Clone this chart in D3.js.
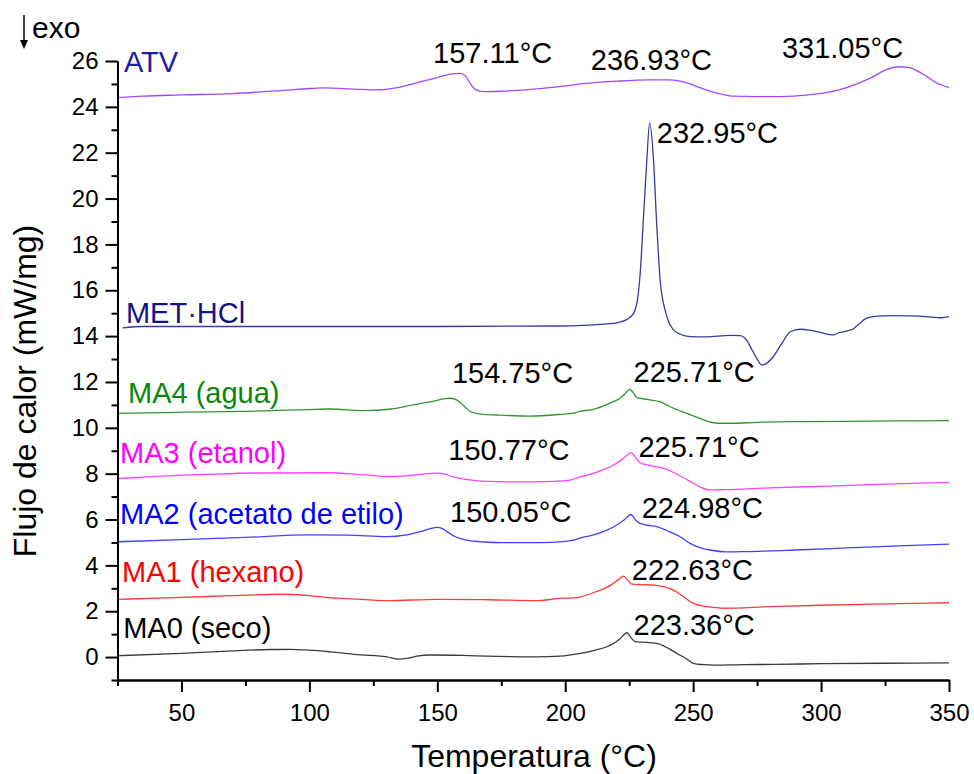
<!DOCTYPE html>
<html>
<head>
<meta charset="utf-8">
<script src="https://cdn.jsdelivr.net/npm/d3@7/dist/d3.min.js"></script>
<style>
  html, body { margin: 0; padding: 0; background: #fff; }
  svg { display: block; font-family: "Liberation Sans", Arial, sans-serif; }
</style>
</head>
<body>
<svg id="chart" width="974" height="774"></svg>
<script>
// ---------- DATA (temperature °C, heat flow mW/mg) ----------
const seriesNames = ["ATV", "MET·HCl", "MA4 (agua)", "MA3 (etanol)", "MA2 (acetato de etilo)", "MA1 (hexano)", "MA0 (seco)"];

const atv = [[25,24.40],[35,24.47],[50,24.52],[70,24.58],[90,24.72],[100,24.80],[106,24.83],[115,24.78],[126,24.74],[135,24.85],[142,25.05],[150,25.28],[156,25.44],[159,25.46],[161,25.35],[163,25.0],[165,24.75],[168,24.66],[175,24.68],[182,24.72],[195,24.85],[208,25.02],[220,25.12],[233,25.18],[240,25.18],[245,25.12],[250,24.95],[255,24.74],[260,24.58],[265,24.47],[275,24.45],[284,24.45],[295,24.52],[307,24.74],[315,25.05],[320,25.30],[325,25.60],[330,25.75],[334,25.72],[340,25.42],[345,25.05],[350,24.84]];

const met = [[27,14.36],[35,14.42],[60,14.42],[100,14.42],[150,14.42],[198,14.44],[215,14.52],[221,14.6],[224,14.72],[226.7,14.99],[228.5,15.8],[229.3,16.74],[230.6,19.21],[231.9,21.68],[233.0,23.3],[234.5,21.68],[235.8,18.77],[237.1,16.45],[239,15.14],[240.5,14.6],[242.3,14.27],[245,14.08],[248.8,13.98],[255,13.97],[264.5,14.03],[268.4,14.02],[271,13.8],[273,13.4],[275,13.0],[276.8,12.74],[278.5,12.8],[281.3,13.1],[285,13.75],[288,14.19],[291.8,14.3],[296,14.25],[300,14.15],[304.7,14.05],[307,14.15],[310,14.22],[312.5,14.31],[315,14.55],[317.8,14.78],[322,14.87],[328,14.89],[335,14.88],[341,14.85],[347,14.8],[350,14.85]];

const ma4 = [[25,10.63],[50,10.68],[75,10.72],[95,10.78],[108,10.82],[121,10.75],[132,10.82],[140.6,11.0],[148,11.15],[153,11.27],[155,11.29],[157.7,11.21],[160,11.0],[163,10.70],[167,10.6],[173.3,10.56],[186.3,10.51],[199.2,10.6],[204,10.65],[205.9,10.73],[210,10.78],[214.8,10.95],[219,11.15],[221.5,11.29],[223.5,11.5],[225.1,11.68],[226.5,11.55],[228,11.32],[229.3,11.29],[233,11.22],[237,11.14],[241,10.92],[247,10.65],[252.7,10.41],[256,10.27],[259.2,10.2],[265,10.2],[275,10.24],[289,10.27],[310,10.28],[330,10.3],[350,10.31]];

const ma3 = [[25,7.78],[40,7.88],[60,7.97],[80,8.03],[108,8.04],[120,7.96],[131.6,7.87],[140,7.93],[147.3,8.01],[150.8,8.02],[153,7.98],[156,7.87],[160,7.77],[165,7.7],[173.3,7.65],[186,7.64],[199.4,7.69],[202,7.72],[204.6,7.82],[210,7.98],[215,8.18],[218.9,8.38],[222,8.6],[225.8,8.91],[227.5,8.7],[229,8.5],[231.9,8.38],[236,8.3],[239.7,8.19],[245,7.9],[250.1,7.58],[253,7.4],[256.6,7.29],[262,7.3],[280,7.38],[300,7.45],[325,7.54],[350,7.62]];

const ma2 = [[25,5.03],[50,5.12],[75,5.22],[100,5.33],[115,5.32],[130.3,5.25],[138,5.33],[143.4,5.47],[148,5.62],[150,5.66],[152,5.6],[153.8,5.47],[157,5.25],[161.6,5.10],[168,5.02],[175.9,4.99],[190,4.99],[200,5.05],[203.3,5.1],[205.9,5.2],[210,5.3],[216.3,5.54],[220,5.75],[223,5.98],[225.7,6.22],[227.5,5.98],[229.3,5.83],[232,5.75],[235.8,5.69],[240,5.5],[244.9,5.25],[248.8,4.96],[252,4.8],[256.6,4.67],[263.2,4.59],[270,4.6],[290,4.67],[310,4.76],[330,4.85],[350,4.93]];

const ma1 = [[25,2.52],[50,2.6],[70,2.68],[88.7,2.74],[100,2.68],[108,2.59],[115,2.55],[130.3,2.46],[150,2.52],[170,2.5],[189,2.46],[198,2.56],[203,2.58],[206,2.63],[212,2.85],[218,3.15],[221,3.4],[222.7,3.53],[224.5,3.35],[226,3.18],[230,3.16],[234.5,3.14],[238,3.08],[242.3,2.92],[246,2.65],[250.1,2.34],[254,2.22],[257.9,2.17],[262,2.13],[280,2.2],[300,2.26],[325,2.32],[350,2.37]];

const ma0 = [[25,0.06],[50,0.16],[70,0.27],[85,0.33],[92.6,0.34],[100,0.30],[108,0.23],[120,0.1],[130.3,0.01],[134.9,-0.09],[138,-0.06],[142,0.04],[147.3,0.09],[160,0.07],[169.4,0.04],[189,0.01],[198,0.04],[205.9,0.16],[211,0.28],[216.3,0.45],[219,0.6],[221.5,0.81],[224.1,1.06],[225.5,0.88],[227.3,0.67],[230,0.65],[235.8,0.6],[240,0.4],[243.6,0.16],[247,-0.05],[250.1,-0.27],[254,-0.33],[257.9,-0.35],[270,-0.33],[281.3,-0.32],[300,-0.29],[325,-0.27],[350,-0.25]];

const xTicks = [50, 100, 150, 200, 250, 300, 350];
const yTicks = [0, 2, 4, 6, 8, 10, 12, 14, 16, 18, 20, 22, 24, 26];

// Series label anchors (data coords) and peak annotation texts with anchors (data coords)
const seriesLabelAt = [[27.5,25.52],[28.3,14.56],[29.1,11.07],[26.0,8.45],[26.0,5.80],[26.8,3.28],[27.2,0.82]];
const peakTexts = ["157.11°C","236.93°C","331.05°C","232.95°C","154.75°C","225.71°C","150.77°C","225.71°C","150.05°C","224.98°C","222.63°C","223.36°C"];
const peakTextAt = [[148.35,25.93],[210.0,25.61],[284.7,26.12],[235.8,22.41],[155.7,11.94],[226.7,12.01],[154.3,8.59],[228.6,8.74],[155.0,5.88],[229.9,6.05],[226.0,3.36],[226.7,0.96]];

// ---------- STYLE ----------
const lineColors  = ["#a347ff", "#3a3aa0", "#2f962f", "#ff40ff", "#4040ff", "#ff3b3b", "#3a3a3a"];
const labelColors = ["#1c1ca8", "#14148a", "#0a870a", "#ff00ff", "#0000ff", "#ff0000", "#000000"];

const svg = d3.select("#chart");
const x = d3.scaleLinear().domain([25, 350]).range([117.5, 949]);
const y = d3.scaleLinear().domain([-1, 26]).range([680, 61]);

const allSeries = [atv, met, ma4, ma3, ma2, ma1, ma0];

const line = d3.line().x(d => x(d[0])).y(d => y(d[1])).curve(d3.curveMonotoneX);

svg.append("g").selectAll("path").data(allSeries).join("path")
  .attr("d", line)
  .attr("fill", "none")
  .attr("stroke", (d, i) => lineColors[i])
  .attr("stroke-width", 1.3)
  .attr("stroke-linejoin", "round");

// Axes
const xAxis = svg.append("g").attr("transform", `translate(0,${y(-1)})`)
  .call(d3.axisBottom(x).tickValues(xTicks).tickSize(12).tickPadding(12).tickSizeOuter(0).tickFormat(d3.format("d")));
const xMinor = svg.append("g").attr("transform", `translate(0,${y(-1)})`)
  .call(d3.axisBottom(x).tickValues([25, 75, 125, 175, 225, 275, 325]).tickSize(6).tickSizeOuter(0).tickFormat(""));
const yAxis = svg.append("g").attr("transform", `translate(${x(25)},0)`)
  .call(d3.axisLeft(y).tickValues(yTicks).tickSize(12).tickPadding(7).tickSizeOuter(0).tickFormat(d3.format("d")));
const yMinor = svg.append("g").attr("transform", `translate(${x(25)},0)`)
  .call(d3.axisLeft(y).tickValues(d3.range(-1, 26, 2)).tickSize(6).tickSizeOuter(0).tickFormat(""));

[xAxis, xMinor, yAxis, yMinor].forEach(g => {
  g.selectAll("path").attr("stroke", "#000").attr("stroke-width", 2);
  g.selectAll("line").attr("stroke", "#000").attr("stroke-width", 2);
  g.selectAll("text").attr("fill", "#000").style("font-size", "24px").style("font-family", "'Liberation Sans', Arial, sans-serif");
});

// Axis titles
svg.append("text")
  .attr("x", 534).attr("y", 767)
  .attr("text-anchor", "middle")
  .style("font-size", "32px")
  .text("Temperatura (°C)");

svg.append("text")
  .attr("transform", `translate(36,391) rotate(-90)`)
  .attr("text-anchor", "middle")
  .style("font-size", "32px")
  .text("Flujo de calor (mW/mg)");

// exo arrow
svg.append("line").attr("x1", 24).attr("x2", 24).attr("y1", 15).attr("y2", 42)
  .attr("stroke", "#000").attr("stroke-width", 1.5);
svg.append("path").attr("d", "M20,40 L28,40 L24,49 Z").attr("fill", "#000");
svg.append("text").attr("x", 32).attr("y", 38).style("font-size", "30px").text("exo");

// Series labels
svg.append("g").selectAll("text").data(seriesNames).join("text")
  .attr("x", (d, i) => x(seriesLabelAt[i][0]))
  .attr("y", (d, i) => y(seriesLabelAt[i][1]))
  .attr("fill", (d, i) => labelColors[i])
  .style("font-size", "29px")
  .text(d => d);

// Peak annotations
svg.append("g").selectAll("text").data(peakTexts).join("text")
  .attr("x", (d, i) => x(peakTextAt[i][0]))
  .attr("y", (d, i) => y(peakTextAt[i][1]))
  .attr("fill", "#000")
  .style("font-size", "29px")
  .text(d => d);
</script>
</body>
</html>
